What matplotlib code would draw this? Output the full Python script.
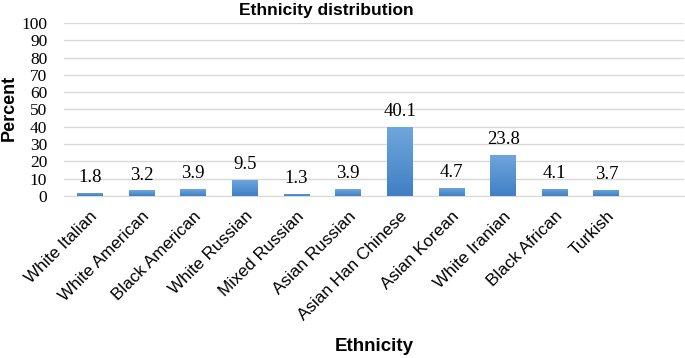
import numpy as np
import matplotlib.pyplot as plt
from matplotlib.colors import LinearSegmentedColormap

categories = ['White Italian', 'White American', 'Black American', 'White Russian',
              'Mixed Russian', 'Asian Russian', 'Asian Han Chinese', 'Asian Korean',
              'White Iranian', 'Black African', 'Turkish']
percent = [1.8, 3.2, 3.9, 9.5, 1.3, 3.9, 40.1, 4.7, 23.8, 4.1, 3.7]
yticks = list(range(0, 101, 10))

fig = plt.figure(figsize=(6.85, 3.58), dpi=100)
ax = fig.add_axes([0.0934, 0.4525, 0.905, 0.4833])

x = np.arange(len(categories))
bars = ax.bar(x, percent, width=0.5, color='#5B9BD5', edgecolor='none', zorder=2)

# vertical gradient inside each bar (lighter top, darker bottom)
cmap = LinearSegmentedColormap.from_list('blue', ['#3F7FC4', '#6FA8DC'])
grad = np.linspace(0, 1, 256).reshape(-1, 1)
for b in bars:
    x0, w, h = b.get_x(), b.get_width(), b.get_height()
    im = ax.imshow(grad, cmap=cmap, origin='lower', aspect='auto',
                   extent=[x0, x0 + w, 0, h], zorder=3)
    im.set_clip_path(b)

for xi, v in zip(x, percent):
    ax.text(xi, v + 4, f'{v}', ha='center', va='bottom',
            family='Liberation Serif', fontsize=13.5)

ax.set_xlim(-0.5, 11.5)
ax.set_ylim(0, 100)
ax.set_yticks(yticks)
ax.set_yticklabels([str(t) for t in yticks], family='Liberation Serif', fontsize=12.5)
ax.set_xticks(x)
ax.set_xticklabels(categories, rotation=45, ha='right', rotation_mode='anchor',
                   family='Liberation Sans', fontsize=12.3)
ax.tick_params(axis='both', length=0)
ax.tick_params(axis='y', pad=12)
ax.tick_params(axis='x', pad=9)

ax.grid(axis='y', color='#D9D9D9', linewidth=1, zorder=0)
ax.set_axisbelow(True)
for s in ['top', 'right', 'left']:
    ax.spines[s].set_visible(False)
ax.spines['bottom'].set_color('#D9D9D9')

fig.text(0.013, 0.698, 'Percent', rotation=90, ha='center', va='center',
         family='Liberation Sans', fontweight='bold', fontsize=13)
fig.text(0.546, 0.031, 'Ethnicity', ha='center', va='center',
         family='Liberation Sans', fontweight='bold', fontsize=13.5)
fig.text(0.476, 0.972, 'Ethnicity distribution', ha='center', va='center',
         family='Liberation Sans', fontweight='bold', fontsize=12.5)

fig.savefig('out.png', dpi=100)
